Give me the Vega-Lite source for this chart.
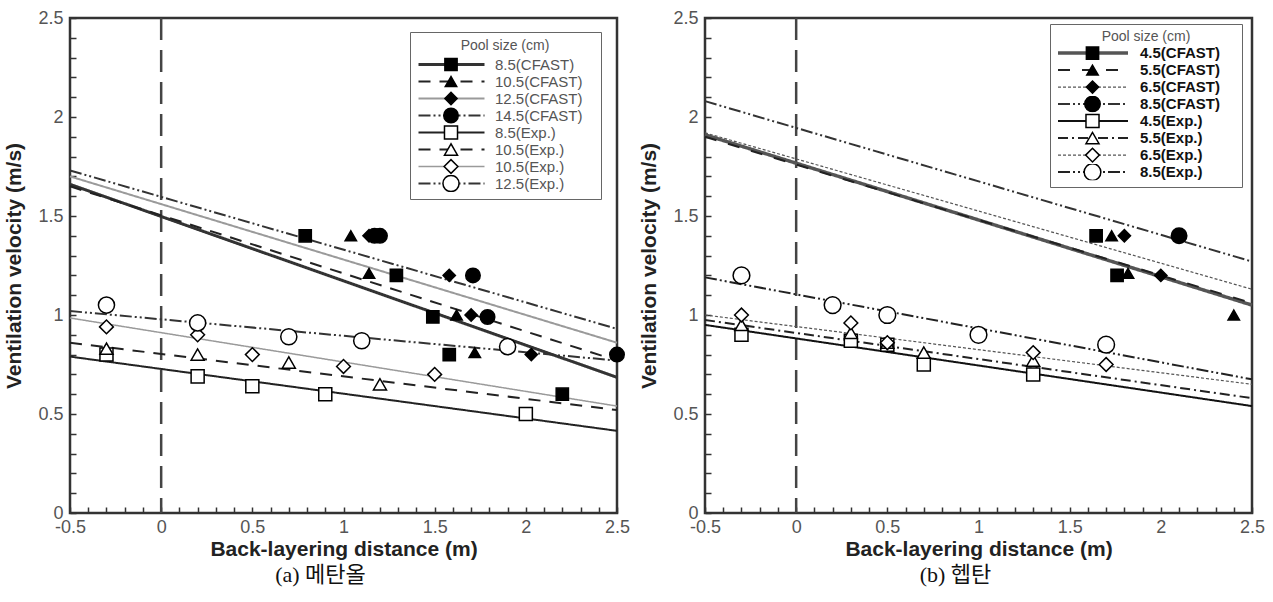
{
  "$schema": "https://vega.github.io/schema/vega-lite/v6.json",
  "background": "white",
  "padding": {"left": 2, "top": 7, "right": 2, "bottom": 5},
  "bounds": "flush",
  "spacing": 88,
  "config": {
    "view": {"stroke": "#333", "strokeWidth": 2.5},
    "axis": {
      "domain": false,
      "grid": false,
      "labelFont": "Liberation Sans",
      "labelFontSize": 18,
      "labelColor": "#555",
      "labelFlush": false,
      "labelOverlap": false,
      "labelBound": false,
      "titleFont": "Liberation Sans",
      "titleFontSize": 21,
      "titleFontWeight": "bold",
      "titleColor": "#222",
      "tickColor": "#333",
      "tickWidth": 1.5
    }
  },
  "resolve": {
    "scale": {"shape": "independent", "fill": "independent", "size": "independent", "strokeDash": "independent", "stroke": "independent", "strokeWidth": "independent"},
    "legend": {"shape": "independent", "fill": "independent", "size": "independent", "strokeDash": "independent", "stroke": "independent", "strokeWidth": "independent"}
  },
  "hconcat": [
    {
      "width": 547,
      "height": 495,
      "title": {"text": "(a) 메탄올", "orient": "bottom", "offset": 6, "dx": -23, "font": "Liberation Serif, Noto Sans CJK KR", "fontSize": 22, "fontWeight": "normal", "color": "#111"},
      "layer": [
        {
          "data": {"values": [{"x": 0}]},
          "mark": {"type": "rule", "strokeDash": [22, 10], "color": "#444", "strokeWidth": 2.5},
          "encoding": {
            "x": {"field": "x", "type": "quantitative", "scale": {"domain": [-0.5, 2.5], "nice": false, "zero": false},
              "axis": {"title": "Back-layering distance (m)", "values": [-0.5,-0.4,-0.3,-0.2,-0.1,0,0.1,0.2,0.3,0.4,0.5,0.6,0.7,0.8,0.9,1,1.1,1.2,1.3,1.4,1.5,1.6,1.7,1.8,1.9,2,2.1,2.2,2.3,2.4,2.5],
                "tickCount": 100,
                "labelExpr": "abs(datum.value*2 - round(datum.value*2)) < 0.001 ? toString(datum.value) : ''",
                "labelOverlap": false,
                "tickSize": -6,
                "labelPadding": 11, "titlePadding": 2}}
          }
        },
        {
          "data": {"values": [
            {"c": "l1 8.5(CFAST)", "x": -0.5, "y": 1.66}, {"c": "l1 8.5(CFAST)", "x": 2.5, "y": 0.685},
            {"c": "l2 10.5(CFAST)", "x": -0.5, "y": 1.65}, {"c": "l2 10.5(CFAST)", "x": 2.5, "y": 0.77},
            {"c": "l3 12.5(CFAST)", "x": -0.5, "y": 1.70}, {"c": "l3 12.5(CFAST)", "x": 2.5, "y": 0.86},
            {"c": "l4 14.5(CFAST)", "x": -0.5, "y": 1.73}, {"c": "l4 14.5(CFAST)", "x": 2.5, "y": 0.93},
            {"c": "l5 8.5(Exp.)", "x": -0.5, "y": 0.79}, {"c": "l5 8.5(Exp.)", "x": 2.5, "y": 0.415},
            {"c": "l6 10.5(Exp.)", "x": -0.5, "y": 0.86}, {"c": "l6 10.5(Exp.)", "x": 2.5, "y": 0.52},
            {"c": "l7 10.5(Exp.)", "x": -0.5, "y": 0.985}, {"c": "l7 10.5(Exp.)", "x": 2.5, "y": 0.54},
            {"c": "l8 12.5(Exp.)", "x": -0.5, "y": 1.02}, {"c": "l8 12.5(Exp.)", "x": 2.5, "y": 0.77}
          ]},
          "mark": {"type": "line"},
          "encoding": {
            "x": {"field": "x", "type": "quantitative"},
            "y": {"field": "y", "type": "quantitative", "scale": {"domain": [0, 2.5], "nice": false},
              "axis": {"title": "Ventilation velocity (m/s)", "values": [0,0.1,0.2,0.3,0.4,0.5,0.6,0.7,0.8,0.9,1,1.1,1.2,1.3,1.4,1.5,1.6,1.7,1.8,1.9,2,2.1,2.2,2.3,2.4,2.5],
                "tickCount": 100,
                "labelExpr": "abs(datum.value*2 - round(datum.value*2)) < 0.001 ? toString(datum.value) : ''",
                "labelOverlap": false,
                "tickSize": -6,
                "labelPadding": 13, "titlePadding": 13}},
            "strokeDash": {"field": "c", "type": "nominal",
              "scale": {"domain": ["l1 8.5(CFAST)","l2 10.5(CFAST)","l3 12.5(CFAST)","l4 14.5(CFAST)","l5 8.5(Exp.)","l6 10.5(Exp.)","l7 10.5(Exp.)","l8 12.5(Exp.)"],
                "range": [[1,0],[12,9],[1,0],[12,3,2,3,2,3],[1,0],[12,9],[1,0],[12,3,2,3,2,3]]},
              "legend": {"orient": "none", "legendX": 340, "legendY": 14, "title": "Pool size (cm)", "titleAnchor": "middle", "titleFont": "Liberation Sans", "titleFontSize": 14, "titleFontWeight": "normal", "titleColor": "#555", "titlePadding": 3,
                "labelFont": "Liberation Sans", "labelFontSize": 15, "labelColor": "#555", "labelExpr": "slice(datum.label, 3) + '\u2002\u2009\u200b'",
                "symbolType": "stroke", "symbolSize": 4356, "clipHeight": 17, "rowPadding": 0, "padding": 7, "strokeColor": "#666", "labelOffset": 9}},
            "stroke": {"field": "c", "type": "nominal",
              "scale": {"domain": ["l1 8.5(CFAST)","l2 10.5(CFAST)","l3 12.5(CFAST)","l4 14.5(CFAST)","l5 8.5(Exp.)","l6 10.5(Exp.)","l7 10.5(Exp.)","l8 12.5(Exp.)"],
                "range": ["#333","#222","#9a9a9a","#333","#222","#222","#9a9a9a","#333"]}},
            "strokeWidth": {"field": "c", "type": "nominal",
              "scale": {"type": "ordinal", "domain": ["l1 8.5(CFAST)","l2 10.5(CFAST)","l3 12.5(CFAST)","l4 14.5(CFAST)","l5 8.5(Exp.)","l6 10.5(Exp.)","l7 10.5(Exp.)","l8 12.5(Exp.)"],
                "range": [3, 2, 2, 2, 2, 2, 1.5, 2]}}
          }
        },
        {
          "data": {"values": [
            {"s": "p1 8.5(CFAST)", "x": 0.79, "y": 1.40}, {"s": "p1 8.5(CFAST)", "x": 1.29, "y": 1.20}, {"s": "p1 8.5(CFAST)", "x": 1.49, "y": 0.99}, {"s": "p1 8.5(CFAST)", "x": 1.58, "y": 0.80}, {"s": "p1 8.5(CFAST)", "x": 2.2, "y": 0.60},
            {"s": "p2 10.5(CFAST)", "x": 1.04, "y": 1.40}, {"s": "p2 10.5(CFAST)", "x": 1.14, "y": 1.21}, {"s": "p2 10.5(CFAST)", "x": 1.62, "y": 1.00}, {"s": "p2 10.5(CFAST)", "x": 1.72, "y": 0.81},
            {"s": "p3 12.5(CFAST)", "x": 1.14, "y": 1.40}, {"s": "p3 12.5(CFAST)", "x": 1.58, "y": 1.20}, {"s": "p3 12.5(CFAST)", "x": 1.70, "y": 1.00}, {"s": "p3 12.5(CFAST)", "x": 2.03, "y": 0.80},
            {"s": "p4 14.5(CFAST)", "x": 1.17, "y": 1.40}, {"s": "p4 14.5(CFAST)", "x": 1.20, "y": 1.40}, {"s": "p4 14.5(CFAST)", "x": 1.71, "y": 1.20}, {"s": "p4 14.5(CFAST)", "x": 1.79, "y": 0.99}, {"s": "p4 14.5(CFAST)", "x": 2.5, "y": 0.80},
            {"s": "p5 8.5(Exp.)", "x": -0.3, "y": 0.80}, {"s": "p5 8.5(Exp.)", "x": 0.2, "y": 0.69}, {"s": "p5 8.5(Exp.)", "x": 0.5, "y": 0.64}, {"s": "p5 8.5(Exp.)", "x": 0.9, "y": 0.60}, {"s": "p5 8.5(Exp.)", "x": 2.0, "y": 0.50},
            {"s": "p6 10.5(Exp.)", "x": -0.3, "y": 0.83}, {"s": "p6 10.5(Exp.)", "x": 0.2, "y": 0.80}, {"s": "p6 10.5(Exp.)", "x": 0.7, "y": 0.76}, {"s": "p6 10.5(Exp.)", "x": 1.2, "y": 0.65},
            {"s": "p7 10.5(Exp.)", "x": -0.3, "y": 0.94}, {"s": "p7 10.5(Exp.)", "x": 0.2, "y": 0.90}, {"s": "p7 10.5(Exp.)", "x": 0.5, "y": 0.80}, {"s": "p7 10.5(Exp.)", "x": 1.0, "y": 0.74}, {"s": "p7 10.5(Exp.)", "x": 1.5, "y": 0.70},
            {"s": "p8 12.5(Exp.)", "x": -0.3, "y": 1.05}, {"s": "p8 12.5(Exp.)", "x": 0.2, "y": 0.96}, {"s": "p8 12.5(Exp.)", "x": 0.7, "y": 0.89}, {"s": "p8 12.5(Exp.)", "x": 1.1, "y": 0.87}, {"s": "p8 12.5(Exp.)", "x": 1.9, "y": 0.84}
          ]},
          "mark": {"type": "point", "filled": true, "stroke": "black", "strokeWidth": 1.5, "opacity": 1},
          "encoding": {
            "x": {"field": "x", "type": "quantitative"},
            "y": {"field": "y", "type": "quantitative"},
            "shape": {"field": "s", "type": "nominal",
              "scale": {"domain": ["p1 8.5(CFAST)","p2 10.5(CFAST)","p3 12.5(CFAST)","p4 14.5(CFAST)","p5 8.5(Exp.)","p6 10.5(Exp.)","p7 10.5(Exp.)","p8 12.5(Exp.)"],
                "range": ["square","triangle-up","diamond","circle","square","triangle-up","diamond","circle"]},
              "legend": {"orient": "none", "legendX": 340, "legendY": 31, "title": null,
                "labelExpr": "''", "labelFontSize": 15,
                "clipHeight": 17, "rowPadding": 0, "padding": 7, "symbolOffset": 25, "symbolStrokeColor": "black", "symbolStrokeWidth": 1.5}},
            "fill": {"field": "s", "type": "nominal",
              "scale": {"domain": ["p1 8.5(CFAST)","p2 10.5(CFAST)","p3 12.5(CFAST)","p4 14.5(CFAST)","p5 8.5(Exp.)","p6 10.5(Exp.)","p7 10.5(Exp.)","p8 12.5(Exp.)"],
                "range": ["black","black","black","black","white","white","white","white"]}},
            "size": {"field": "s", "type": "nominal",
              "scale": {"type": "ordinal", "domain": ["p1 8.5(CFAST)","p2 10.5(CFAST)","p3 12.5(CFAST)","p4 14.5(CFAST)","p5 8.5(Exp.)","p6 10.5(Exp.)","p7 10.5(Exp.)","p8 12.5(Exp.)"],
                "range": [150, 130, 150, 210, 170, 170, 190, 260]}}
          }
        }
      ]
    },
    {
      "width": 547,
      "height": 495,
      "title": {"text": "(b) 헵탄", "orient": "bottom", "offset": 6, "dx": -23, "font": "Liberation Serif, Noto Sans CJK KR", "fontSize": 22, "fontWeight": "normal", "color": "#111"},
      "layer": [
        {
          "data": {"values": [{"x": 0}]},
          "mark": {"type": "rule", "strokeDash": [22, 10], "color": "#444", "strokeWidth": 2.5},
          "encoding": {
            "x": {"field": "x", "type": "quantitative", "scale": {"domain": [-0.5, 2.5], "nice": false, "zero": false},
              "axis": {"title": "Back-layering distance (m)", "values": [-0.5,-0.4,-0.3,-0.2,-0.1,0,0.1,0.2,0.3,0.4,0.5,0.6,0.7,0.8,0.9,1,1.1,1.2,1.3,1.4,1.5,1.6,1.7,1.8,1.9,2,2.1,2.2,2.3,2.4,2.5],
                "tickCount": 100,
                "labelExpr": "abs(datum.value*2 - round(datum.value*2)) < 0.001 ? toString(datum.value) : ''",
                "labelOverlap": false,
                "tickSize": -6,
                "labelPadding": 11, "titlePadding": 2}}
          }
        },
        {
          "data": {"values": [
            {"c": "m1 4.5(CFAST)", "x": -0.5, "y": 1.91}, {"c": "m1 4.5(CFAST)", "x": 2.5, "y": 1.05},
            {"c": "m2 5.5(CFAST)", "x": -0.5, "y": 1.90}, {"c": "m2 5.5(CFAST)", "x": 2.5, "y": 1.06},
            {"c": "m3 6.5(CFAST)", "x": -0.5, "y": 1.92}, {"c": "m3 6.5(CFAST)", "x": 2.5, "y": 1.13},
            {"c": "m4 8.5(CFAST)", "x": -0.5, "y": 2.08}, {"c": "m4 8.5(CFAST)", "x": 2.5, "y": 1.27},
            {"c": "m5 4.5(Exp.)", "x": -0.5, "y": 0.95}, {"c": "m5 4.5(Exp.)", "x": 2.5, "y": 0.54},
            {"c": "m6 5.5(Exp.)", "x": -0.5, "y": 0.975}, {"c": "m6 5.5(Exp.)", "x": 2.5, "y": 0.58},
            {"c": "m7 6.5(Exp.)", "x": -0.5, "y": 1.00}, {"c": "m7 6.5(Exp.)", "x": 2.5, "y": 0.65},
            {"c": "m8 8.5(Exp.)", "x": -0.5, "y": 1.19}, {"c": "m8 8.5(Exp.)", "x": 2.5, "y": 0.675}
          ]},
          "mark": {"type": "line"},
          "encoding": {
            "x": {"field": "x", "type": "quantitative"},
            "y": {"field": "y", "type": "quantitative", "scale": {"domain": [0, 2.5], "nice": false},
              "axis": {"title": "Ventilation velocity (m/s)", "values": [0,0.1,0.2,0.3,0.4,0.5,0.6,0.7,0.8,0.9,1,1.1,1.2,1.3,1.4,1.5,1.6,1.7,1.8,1.9,2,2.1,2.2,2.3,2.4,2.5],
                "tickCount": 100,
                "labelExpr": "abs(datum.value*2 - round(datum.value*2)) < 0.001 ? toString(datum.value) : ''",
                "labelOverlap": false,
                "tickSize": -6,
                "labelPadding": 13, "titlePadding": 13}},
            "strokeDash": {"field": "c", "type": "nominal",
              "scale": {"domain": ["m1 4.5(CFAST)","m2 5.5(CFAST)","m3 6.5(CFAST)","m4 8.5(CFAST)","m5 4.5(Exp.)","m6 5.5(Exp.)","m7 6.5(Exp.)","m8 8.5(Exp.)"],
                "range": [[1,0],[12,12],[3,2],[12,3,2,3,2,3],[1,0],[10,4,2,4],[3,2],[12,3,2,3,2,3]]},
              "legend": {"orient": "none", "legendX": 345, "legendY": 6, "title": "Pool size (cm)", "titleAnchor": "middle", "titleFont": "Liberation Sans", "titleFontSize": 14, "titleFontWeight": "normal", "titleColor": "#555", "titlePadding": 1,
                "labelFont": "Liberation Sans", "labelFontSize": 15, "labelFontWeight": "bold", "labelColor": "#111", "labelExpr": "slice(datum.label, 3) + '\u2002\u2002\u200b'",
                "symbolType": "stroke", "symbolSize": 4900, "clipHeight": 16.2, "rowPadding": 0, "padding": 6, "strokeColor": "#666", "labelOffset": 10}},
            "stroke": {"field": "c", "type": "nominal",
              "scale": {"domain": ["m1 4.5(CFAST)","m2 5.5(CFAST)","m3 6.5(CFAST)","m4 8.5(CFAST)","m5 4.5(Exp.)","m6 5.5(Exp.)","m7 6.5(Exp.)","m8 8.5(Exp.)"],
                "range": ["#555","#222","#555","#333","#111","#222","#555","#222"]}},
            "strokeWidth": {"field": "c", "type": "nominal",
              "scale": {"type": "ordinal", "domain": ["m1 4.5(CFAST)","m2 5.5(CFAST)","m3 6.5(CFAST)","m4 8.5(CFAST)","m5 4.5(Exp.)","m6 5.5(Exp.)","m7 6.5(Exp.)","m8 8.5(Exp.)"],
                "range": [3.5, 2, 1.2, 2, 2, 2, 1.2, 2]}}
          }
        },
        {
          "data": {"values": [
            {"s": "q1 4.5(CFAST)", "x": 1.645, "y": 1.40}, {"s": "q1 4.5(CFAST)", "x": 1.76, "y": 1.20},
            {"s": "q2 5.5(CFAST)", "x": 1.73, "y": 1.40}, {"s": "q2 5.5(CFAST)", "x": 1.82, "y": 1.21}, {"s": "q2 5.5(CFAST)", "x": 2.4, "y": 1.00},
            {"s": "q3 6.5(CFAST)", "x": 1.80, "y": 1.40}, {"s": "q3 6.5(CFAST)", "x": 2.0, "y": 1.20},
            {"s": "q4 8.5(CFAST)", "x": 2.1, "y": 1.40},
            {"s": "q5 4.5(Exp.)", "x": -0.3, "y": 0.90}, {"s": "q5 4.5(Exp.)", "x": 0.3, "y": 0.87}, {"s": "q5 4.5(Exp.)", "x": 0.5, "y": 0.85}, {"s": "q5 4.5(Exp.)", "x": 0.7, "y": 0.75}, {"s": "q5 4.5(Exp.)", "x": 1.3, "y": 0.70},
            {"s": "q6 5.5(Exp.)", "x": -0.3, "y": 0.95}, {"s": "q6 5.5(Exp.)", "x": 0.3, "y": 0.91}, {"s": "q6 5.5(Exp.)", "x": 0.5, "y": 0.86}, {"s": "q6 5.5(Exp.)", "x": 0.7, "y": 0.81}, {"s": "q6 5.5(Exp.)", "x": 1.3, "y": 0.77},
            {"s": "q7 6.5(Exp.)", "x": -0.3, "y": 1.00}, {"s": "q7 6.5(Exp.)", "x": 0.3, "y": 0.96}, {"s": "q7 6.5(Exp.)", "x": 0.5, "y": 0.86}, {"s": "q7 6.5(Exp.)", "x": 1.3, "y": 0.81}, {"s": "q7 6.5(Exp.)", "x": 1.7, "y": 0.75},
            {"s": "q8 8.5(Exp.)", "x": -0.3, "y": 1.20}, {"s": "q8 8.5(Exp.)", "x": 0.2, "y": 1.05}, {"s": "q8 8.5(Exp.)", "x": 0.5, "y": 1.00}, {"s": "q8 8.5(Exp.)", "x": 1.0, "y": 0.90}, {"s": "q8 8.5(Exp.)", "x": 1.7, "y": 0.85}
          ]},
          "mark": {"type": "point", "filled": true, "stroke": "black", "strokeWidth": 1.5, "opacity": 1},
          "encoding": {
            "x": {"field": "x", "type": "quantitative"},
            "y": {"field": "y", "type": "quantitative"},
            "shape": {"field": "s", "type": "nominal",
              "scale": {"domain": ["q1 4.5(CFAST)","q2 5.5(CFAST)","q3 6.5(CFAST)","q4 8.5(CFAST)","q5 4.5(Exp.)","q6 5.5(Exp.)","q7 6.5(Exp.)","q8 8.5(Exp.)"],
                "range": ["square","triangle-up","diamond","circle","square","triangle-up","diamond","circle"]},
              "legend": {"orient": "none", "legendX": 345, "legendY": 21, "title": null,
                "labelExpr": "''", "labelFontSize": 15,
                "clipHeight": 16.2, "rowPadding": 0, "padding": 6, "symbolOffset": 27, "symbolStrokeColor": "black", "symbolStrokeWidth": 1.5}},
            "fill": {"field": "s", "type": "nominal",
              "scale": {"domain": ["q1 4.5(CFAST)","q2 5.5(CFAST)","q3 6.5(CFAST)","q4 8.5(CFAST)","q5 4.5(Exp.)","q6 5.5(Exp.)","q7 6.5(Exp.)","q8 8.5(Exp.)"],
                "range": ["black","black","black","black","white","white","white","white"]}},
            "size": {"field": "s", "type": "nominal",
              "scale": {"type": "ordinal", "domain": ["q1 4.5(CFAST)","q2 5.5(CFAST)","q3 6.5(CFAST)","q4 8.5(CFAST)","q5 4.5(Exp.)","q6 5.5(Exp.)","q7 6.5(Exp.)","q8 8.5(Exp.)"],
                "range": [150, 130, 150, 240, 170, 170, 190, 280]}}
          }
        }
      ]
    }
  ]
}
